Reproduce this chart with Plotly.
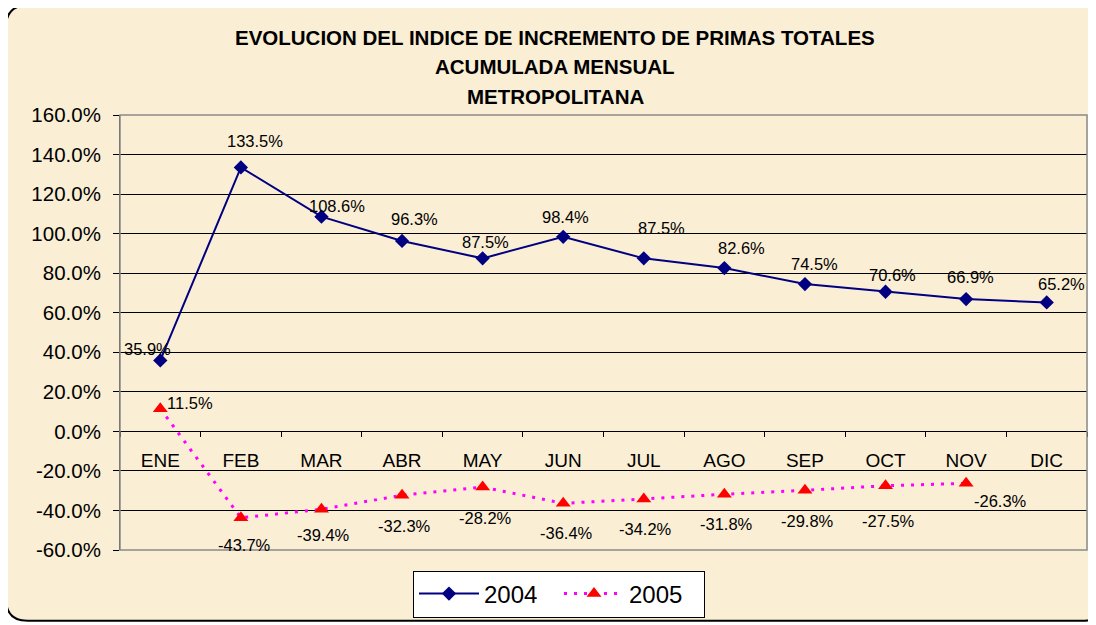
import plotly.graph_objects as go

# ---------------- data ----------------
months = ["ENE", "FEB", "MAR", "ABR", "MAY", "JUN", "JUL", "AGO", "SEP", "OCT", "NOV", "DIC"]
values_2004 = [35.9, 133.5, 108.6, 96.3, 87.5, 98.4, 87.5, 82.6, 74.5, 70.6, 66.9, 65.2]
values_2005 = [11.5, -43.7, -39.4, -32.3, -28.2, -36.4, -34.2, -31.8, -29.8, -27.5, -26.3]
y_ticks = [-60, -40, -20, 0, 20, 40, 60, 80, 100, 120, 140, 160]
title_lines = [
    "EVOLUCION DEL INDICE DE INCREMENTO DE PRIMAS TOTALES",
    "ACUMULADA MENSUAL",
    "METROPOLITANA",
]

# label offsets in px (dx, dy) - placement only
off_2004 = [(-13, 11), (14, 26), (16, 11), (12, 22), (3, 16), (2, 20), (18, 30),
            (17, 20), (10, 20), (7, 17), (4, 22), (15, 18)]
off_2005 = [(30, 6), (4, -27), (2, -26), (2, -31), (3, -31), (3, -30), (2, -30),
            (2, -30), (3, -31), (3, -35), (34, -18)]

OFF = 8  # page body margin
W, H = 1096 - OFF, 625 - OFF
ML, MR, MT, MB = 120 - OFF, 9, 115 - OFF, 74
PW, PH = W - ML - MR, H - MT - MB
FONT = "Liberation Sans, Arial, sans-serif"


def px_x(px):
    return (px - OFF - ML) / PW


def px_y(py):
    return (H - MB - (py - OFF)) / PH


fig = go.Figure()
fig.add_trace(go.Scatter(
    x=months, y=values_2004, name="2004", mode="lines+markers",
    line=dict(color="#000080", width=2),
    marker=dict(symbol="diamond", size=11, color="#000080"),
))
fig.add_trace(go.Scatter(
    x=months[:len(values_2005)], y=values_2005, name="2005", mode="lines+markers",
    line=dict(color="#FF00FF", width=3, dash="3px,7px"),
    marker=dict(symbol="triangle-up", size=13, color="#FF0000"),
))

annotations = []
for m, v, (dx, dy) in zip(months, values_2004, off_2004):
    annotations.append(dict(x=m, y=v, text=f"{v:.1f}%", showarrow=False,
                            xshift=dx, yshift=dy, font=dict(size=16.5, color="black", family=FONT)))
for m, v, (dx, dy) in zip(months, values_2005, off_2005):
    annotations.append(dict(x=m, y=v, text=f"{v:.1f}%", showarrow=False,
                            xshift=dx, yshift=dy, font=dict(size=16.5, color="black", family=FONT)))
for i, (t, py) in enumerate(zip(title_lines, [37, 66, 96])):
    annotations.append(dict(x=px_x(555), y=px_y(py), xref="paper", yref="paper",
                            text=f"<b>{t}</b>", showarrow=False,
                            xanchor="center", yanchor="middle",
                            font=dict(size=20.5, color="black", family=FONT)))

# rounded outer border
x0, y0, x1, y1, r = 6, 5, 1104, 622, 22
def P(a, b):
    return f"{px_x(a):.5f},{px_y(b):.5f}"
path = (f"M {P(x0 + r, y0)} L {P(x1 - r, y0)} Q {P(x1, y0)} {P(x1, y0 + r)} "
        f"L {P(x1, y1 - r)} Q {P(x1, y1)} {P(x1 - r, y1)} L {P(x0 + r, y1)} "
        f"Q {P(x0, y1)} {P(x0, y1 - r)} L {P(x0, y0 + r)} Q {P(x0, y0)} {P(x0 + r, y0)} Z")

shapes = [
    dict(type="path", xref="paper", yref="paper", path=path,
         fillcolor="#FAEED5", line=dict(color="black", width=2), layer="below"),
    dict(type="rect", xref="paper", yref="paper", x0=0, y0=0, x1=1, y1=1,
         line=dict(color="#8A8A8A", width=1.5), layer="above"),
]

y_min, y_max = y_ticks[0], y_ticks[-1]
fig.update_layout(
    width=W, height=H,
    margin=dict(l=ML, r=MR, t=MT, b=MB),
    paper_bgcolor="white",
    plot_bgcolor="#DBE7F5",
    font=dict(family=FONT, color="black"),
    showlegend=True,
    legend=dict(orientation="h", x=px_x(559), y=px_y(594), xanchor="center", yanchor="middle",
                bgcolor="white", bordercolor="black", borderwidth=1,
                font=dict(size=24, family=FONT, color="black"),
                entrywidth=70, itemwidth=60),
    annotations=annotations,
    shapes=shapes,
    xaxis=dict(
        type="category", categoryorder="array", categoryarray=months,
        range=[-0.5, len(months) - 0.5],
        anchor="free", position=(0 - y_min) / (y_max - y_min),
        showline=True, linecolor="black", linewidth=1,
        showgrid=False, zeroline=False,
        ticks="outside", tickson="boundaries", ticklen=5, tickcolor="black",
        tickfont=dict(size=19, family=FONT, color="black"),
        ticklabelstandoff=12,
    ),
    yaxis=dict(
        range=[y_min, y_max], tickvals=y_ticks,
        ticktext=[f"{t:.1f}%" for t in y_ticks],
        showgrid=True, gridcolor="black", gridwidth=1,
        zeroline=False,
        showline=True, linecolor="#404040", linewidth=1,
        ticks="outside", ticklen=6, tickcolor="black",
        tickfont=dict(size=20.5, family=FONT, color="black"),
        ticklabelstandoff=8,
    ),
)

fig.write_html("out.html")
